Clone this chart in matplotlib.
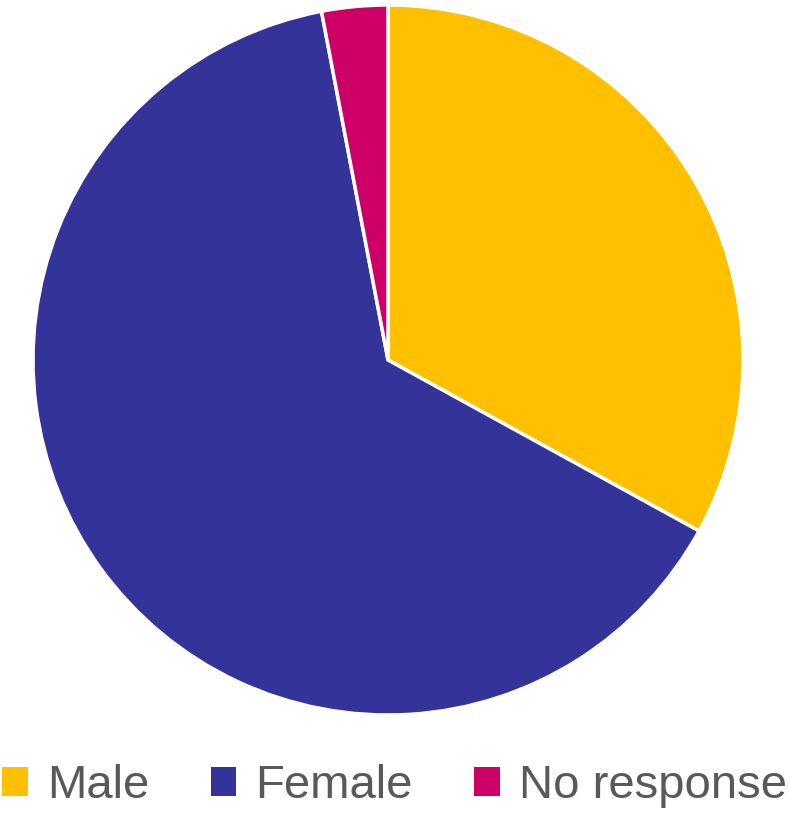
import matplotlib
matplotlib.use("Agg")
import matplotlib.pyplot as plt
from matplotlib.patches import Patch

categories = ["Male", "Female", "No response"]
values = [33, 64, 3]
colors = ["#FFC000", "#333399", "#CC0066"]

W, H = 789, 813
fig = plt.figure(figsize=(W / 100, H / 100), dpi=100)
cx, cy, r = 388, 360, 355
ax = fig.add_axes([(cx - r) / W, (H - cy - r) / H, 2 * r / W, 2 * r / H])
ax.pie(values, colors=colors, startangle=90, counterclock=False,
       wedgeprops=dict(edgecolor="white", linewidth=2.5), radius=1)
ax.set_xlim(-1, 1)
ax.set_ylim(-1, 1)
ax.set_aspect("equal")
ax.axis("off")

handles = [Patch(facecolor=c, edgecolor="none") for c in colors]
leg = fig.legend(handles, categories, loc="center", bbox_to_anchor=(0.5, (H - 786) / H),
                 ncol=3, frameon=False, handlelength=0.55, handleheight=0.55,
                 handletextpad=0.4, columnspacing=1.3, borderaxespad=0,
                 prop={"family": "Liberation Sans", "size": 34})
for t in leg.get_texts():
    t.set_color("#595959")

fig.savefig("out.png", dpi=100)
